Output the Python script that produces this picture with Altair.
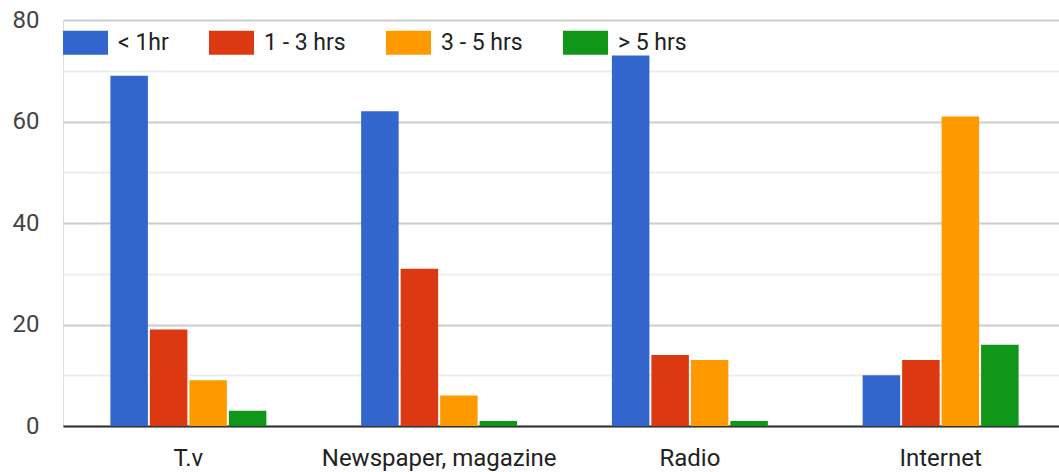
import altair as alt
import pandas as pd

categories = ["T.v", "Newspaper, magazine", "Radio", "Internet"]
series = ["< 1hr", "1 - 3 hrs", "3 - 5 hrs", "> 5 hrs"]
lt1 = [69, 62, 73, 10]
h1_3 = [19, 31, 14, 13]
h3_5 = [9, 6, 13, 61]
gt5 = [3, 1, 1, 16]
colors = ["#3366cc", "#dc3912", "#ff9900", "#109618"]

rows = []
for s, vals in zip(series, [lt1, h1_3, h3_5, gt5]):
    for c, v in zip(categories, vals):
        rows.append({"media": c, "time": s, "value": v})
df = pd.DataFrame(rows)

FONT = "Roboto"

chart = alt.Chart(df).mark_bar().encode(
    x=alt.X("media:N", sort=categories,
            scale=alt.Scale(paddingInner=0.378, paddingOuter=0.189, range=[0, 1003]),
            axis=alt.Axis(title=None, labelAngle=0, ticks=False, domainColor="#333333",
                          domainWidth=2, labelFontSize=24, labelColor="#222222",
                          labelPadding=20, labelFont=FONT, grid=False, labelLimit=0)),
    xOffset=alt.XOffset("time:N", sort=series, scale=alt.Scale(paddingInner=0.05)),
    y=alt.Y("value:Q",
            scale=alt.Scale(domain=[0, 80], nice=False),
            axis=alt.Axis(title=None, values=[0, 10, 20, 30, 40, 50, 60, 70, 80],
                          labelExpr="datum.value % 20 === 0 ? datum.label : ''",
                          gridColor=alt.ExprRef(expr="datum.value % 20 === 0 ? '#cccccc' : '#ededed'"),
                          gridWidth=2,
                          domain=False, ticks=False, labelFontSize=24, labelColor="#444444",
                          labelPadding=24, labelFont=FONT)),
    color=alt.Color("time:N", sort=series,
                    scale=alt.Scale(domain=series, range=colors),
                    legend=alt.Legend(title=None, orient="none", legendX=0, legendY=0,
                                      direction="horizontal",
                                      symbolType="M-1,-0.533H1V0.533H-1Z",
                                      symbolSize=2025, symbolStrokeWidth=0,
                                      symbolOpacity=1,
                                      labelFontSize=23, labelFont=FONT, labelColor="#222222",
                                      labelOffset=10, columnPadding=40, padding=0)),
).properties(
    width=996, height=406,
    autosize=alt.AutoSizeParams(type="none"),
    padding={"left": 63, "top": 20, "right": 0, "bottom": 46},
).configure_view(stroke=None).configure(background="white")

chart.save("out.html", embed_options={"renderer": "svg", "actions": False})
